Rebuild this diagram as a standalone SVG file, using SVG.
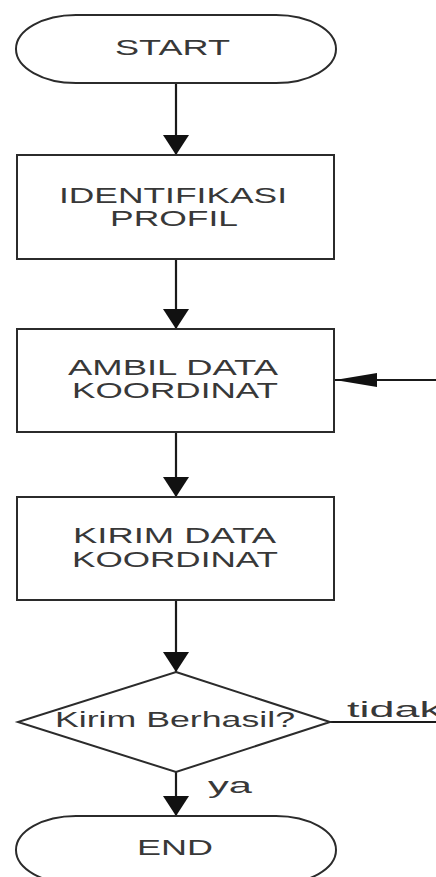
<svg xmlns="http://www.w3.org/2000/svg" width="436" height="877" viewBox="0 0 436 877">
<style>
.shape{fill:#fff;stroke:#2b2b2b;stroke-width:2}
.conn{fill:none;stroke:#1a1a1a;stroke-width:2.2}
.t{font-family:"Liberation Sans",Arial,sans-serif;font-size:22px;fill:#383838}
</style>
<defs>
<marker id="ah" viewBox="0 0 10 10" refX="10" refY="5" markerUnits="userSpaceOnUse" markerWidth="20" markerHeight="26" orient="auto" preserveAspectRatio="none">
<path d="M0,0 L10,5 L0,10 Z" fill="#111"/>
</marker>
<marker id="ahh" viewBox="0 0 10 10" refX="10" refY="5" markerUnits="userSpaceOnUse" markerWidth="42" markerHeight="14" orient="auto" preserveAspectRatio="none">
<path d="M0,0 L10,5 L0,10 Z" fill="#111"/>
</marker>
</defs>
<rect width="436" height="877" fill="#fff"/>
<g id="connectors">
<line class="conn" x1="176" y1="83" x2="176" y2="155" marker-end="url(#ah)"/>
<line class="conn" x1="176" y1="259" x2="176" y2="329" marker-end="url(#ah)"/>
<line class="conn" x1="176" y1="432" x2="176" y2="497" marker-end="url(#ah)"/>
<line class="conn" x1="176" y1="600" x2="176" y2="672" marker-end="url(#ah)"/>
<line class="conn" x1="176" y1="772" x2="176" y2="816" marker-end="url(#ah)"/>
<line class="conn" x1="436" y1="380" x2="335" y2="380" marker-end="url(#ahh)"/>
<line class="conn" x1="330" y1="722" x2="436" y2="722"/>
<text class="t" x="347" y="717" textLength="95" lengthAdjust="spacingAndGlyphs">tidak</text>
<text class="t" x="208" y="793" textLength="44" lengthAdjust="spacingAndGlyphs">ya</text>
</g>
<g id="start">
<path class="shape" d="M76 15 H276 A60 34 0 0 1 276 83 H76 A60 34 0 0 1 76 15 Z"/>
<text class="t" x="115" y="55" textLength="115" lengthAdjust="spacingAndGlyphs">START</text>
</g>
<g id="identifikasi">
<rect class="shape" x="17" y="155" width="317" height="104"/>
<text class="t" x="59" y="203" textLength="228" lengthAdjust="spacingAndGlyphs">IDENTIFIKASI</text>
<text class="t" x="110" y="226" textLength="128" lengthAdjust="spacingAndGlyphs">PROFIL</text>
</g>
<g id="ambil">
<rect class="shape" x="17" y="329" width="317" height="103"/>
<text class="t" x="68" y="375" textLength="210" lengthAdjust="spacingAndGlyphs">AMBIL DATA</text>
<text class="t" x="72" y="398" textLength="206" lengthAdjust="spacingAndGlyphs">KOORDINAT</text>
</g>
<g id="kirim">
<rect class="shape" x="17" y="497" width="317" height="103"/>
<text class="t" x="73" y="543" textLength="203" lengthAdjust="spacingAndGlyphs">KIRIM DATA</text>
<text class="t" x="72" y="567" textLength="206" lengthAdjust="spacingAndGlyphs">KOORDINAT</text>
</g>
<g id="decision">
<polygon class="shape" points="176,672 330,722 176,772 18,722"/>
<text class="t" x="55" y="727" textLength="240" lengthAdjust="spacingAndGlyphs">Kirim Berhasil?</text>
</g>
<g id="end">
<path class="shape" d="M76 816 H276 A60 34 0 0 1 276 884 H76 A60 34 0 0 1 76 816 Z"/>
<text class="t" x="137" y="855" textLength="76" lengthAdjust="spacingAndGlyphs">END</text>
</g>
</svg>
